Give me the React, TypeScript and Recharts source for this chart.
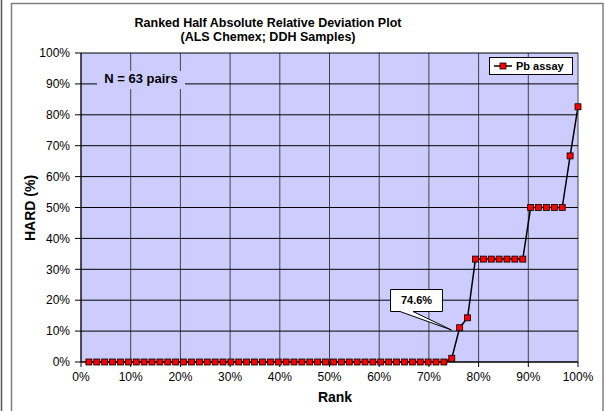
import { CartesianGrid, Line, LineChart, XAxis, YAxis } from "recharts";

const pairCount = 63;
const seriesName = "Pb assay";

// HARD (%) per pair, ranked ascending
const hardValues = [
  0, 0, 0, 0, 0, 0, 0, 0, 0, 0,
  0, 0, 0, 0, 0, 0, 0, 0, 0, 0,
  0, 0, 0, 0, 0, 0, 0, 0, 0, 0,
  0, 0, 0, 0, 0, 0, 0, 0, 0, 0,
  0, 0, 0, 0, 0, 0, 1.2, 11.1, 14.3, 33.3,
  33.3, 33.3, 33.3, 33.3, 33.3, 33.3, 50, 50, 50, 50,
  50, 66.7, 82.6
];

const xTicks = [0, 10, 20, 30, 40, 50, 60, 70, 80, 90, 100];
const yTicks = [0, 10, 20, 30, 40, 50, 60, 70, 80, 90, 100];

const data = hardValues.map((hard, i) => ({
  rank: ((i + 1) / pairCount) * 100,
  hard
}));

const font = "'Liberation Sans', Arial, sans-serif";

function SquareDot(props: any) {
  const { cx, cy, index } = props;
  if (cx == null || cy == null) return null;
  return (
    <rect
      key={index}
      x={cx - 3}
      y={cy - 3}
      width={6}
      height={6}
      fill="#ff0000"
      stroke="#000"
      strokeWidth={0.8}
    />
  );
}

export default function App() {
  return (
    <div
      style={{
        position: "absolute",
        left: 0,
        top: 0,
        width: 605,
        height: 411,
        background: "#fff",
        fontFamily: font
      }}
    >
      <LineChart
        width={605}
        height={411}
        data={data}
        margin={{ top: 53, right: 27, bottom: 19, left: 0 }}
      >
        <CartesianGrid
          horizontal={false}
          stroke="#444"
          strokeOpacity={1}
          fill="#ccccff"
          fillOpacity={1}
        />
        <CartesianGrid vertical={false} stroke="#000" strokeOpacity={1} />
        <XAxis
          type="number"
          dataKey="rank"
          domain={[0, 100]}
          ticks={xTicks}
          height={30}
          tickFormatter={(v) => `${v}%`}
          stroke="#000"
          tickSize={5}
          tickMargin={5}
          tick={{ fill: "#000", fontSize: 12, fontFamily: font }}
        />
        <YAxis
          type="number"
          domain={[0, 100]}
          ticks={yTicks}
          width={81}
          tickFormatter={(v) => `${v}%`}
          stroke="#000"
          tickSize={6}
          tickMargin={5}
          tick={{ fill: "#000", fontSize: 12, fontFamily: font }}
        />
        <Line
          type="linear"
          dataKey="hard"
          name={seriesName}
          stroke="#000"
          strokeWidth={1.5}
          dot={<SquareDot />}
          activeDot={false}
          isAnimationActive={false}
        />
      </LineChart>

      <svg
        width={605}
        height={411}
        style={{ position: "absolute", left: 0, top: 0, pointerEvents: "none" }}
        fontFamily={font}
      >
        {/* frame */}
        <line x1={1.5} y1={0} x2={1.5} y2={411} stroke="#555" strokeWidth={1.5} />
        <polyline
          points="11.5,411 11.5,3.5 603,3.5 603,411"
          fill="none"
          stroke="#808080"
          strokeWidth={1.5}
        />

        {/* title */}
        <text x={268} y={27} textAnchor="middle" fontSize={12.5} fontWeight="bold">
          Ranked Half Absolute Relative Deviation Plot
        </text>
        <text x={268} y={41} textAnchor="middle" fontSize={12.5} fontWeight="bold">
          (ALS Chemex; DDH Samples)
        </text>

        {/* axis titles */}
        <text x={335} y={402} textAnchor="middle" fontSize={14} fontWeight="bold">
          Rank
        </text>
        <text
          x={35}
          y={208}
          textAnchor="middle"
          fontSize={14}
          fontWeight="bold"
          transform="rotate(-90 35 208)"
        >
          HARD (%)
        </text>

        {/* N label */}
        <rect x={97} y={71} width={88} height={18} fill="#ccccff" />
        <text x={141} y={83} textAnchor="middle" fontSize={13} fontWeight="bold">
          N = 63 pairs
        </text>

        {/* legend */}
        <rect x={489.5} y={57.5} width={83} height={17} fill="#fff" stroke="#000" />
        <line x1={494} y1={66} x2={512} y2={66} stroke="#000" strokeWidth={1.5} />
        <rect x={500} y={63} width={6} height={6} fill="#ff0000" stroke="#000" strokeWidth={0.8} />
        <text x={516} y={70} fontSize={11} fontWeight="bold">
          {seriesName}
        </text>

        {/* callout */}
        <path
          d="M390.5,289.5 H442.5 V311.5 H413 L451.5,330 L400,311.5 H390.5 Z"
          fill="#fff"
          stroke="#000"
          strokeWidth={1}
        />
        <text x={416.5} y={304} textAnchor="middle" fontSize={11} fontWeight="bold">
          74.6%
        </text>
      </svg>
    </div>
  );
}
